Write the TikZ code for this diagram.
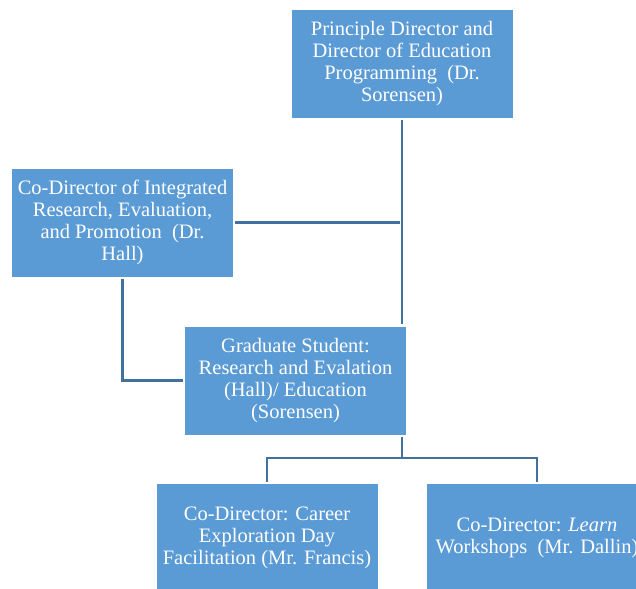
\documentclass[tikz,border=0pt]{standalone}
\usepackage{fontspec}
\setmainfont{Liberation Serif}
\newfontfamily\timesfont{Liberation Serif}
\usetikzlibrary{positioning}

\definecolor{boxblue}{HTML}{5B9BD5}
\definecolor{lineblue}{HTML}{41719C}

\tikzset{
  rolebox/.style={fill=boxblue, text=white, minimum width=221, minimum height=108,
    inner sep=0pt, align=center, font=\timesfont\fontsize{20.5}{22}\selectfont},
  link/.style={draw=lineblue, line width=2.3, shorten <=2, shorten >=2}
}

\begin{document}
\begin{tikzpicture}[x=1pt,y=-1pt]
  \useasboundingbox[clip] (0,0) rectangle (636,588);
  \fill[white] (0,0) rectangle (636,588);

  % roles
  \node[rolebox] (top) at (402,64) {Principle Director and\\Director of Education\\Programming\ \ (Dr.\\Sorensen)};
  \node[rolebox] (hall) at (122.5,222.5) {Co-Director of Integrated\\Research,\ Evaluation,\\and Promotion\ \ (Dr.\\Hall)};
  \node[rolebox] (grad) at (295.5,380.5) {Graduate Student:\\Research\ and Evalation\\(Hall)/ Education\\(Sorensen)};
  \node[rolebox] (career) at (267,538) {Co-Director: Career\\Exploration Day\\Facilitation (Mr. Francis)};
  \node[rolebox] (learn) at (537,538) {Co-Director: \textit{Learn}\\Workshops\ \ (Mr. Dallin)};

  % connectors
  \draw[link] (top.south) -- (top.south |- grad.north);
  \draw[link] (hall.east) -- (hall.east -| top.south);
  \draw[link] (hall.south) |- (grad.west);
  \coordinate (bus) at (402,458);
  \draw[link, shorten >=0] (top.south |- grad.south) -- (bus);
  \draw[link, shorten <=0] (bus) -| (career.north);
  \draw[link, shorten <=0] (bus) -| (learn.north);
\end{tikzpicture}
\end{document}
